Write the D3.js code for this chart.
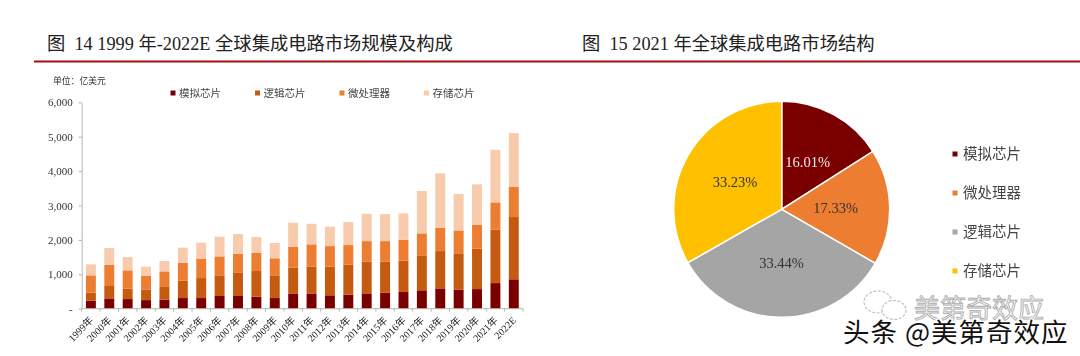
<!DOCTYPE html>
<html>
<head>
<meta charset="utf-8">
<script src="https://cdn.jsdelivr.net/npm/d3@7"></script>
<style>
  html, body { margin: 0; padding: 0; background: #fff; }
  text { font-family: "Liberation Serif", "Noto Sans CJK SC", serif; }
  .chart { filter: blur(0.45px); }
</style>
</head>
<body>
<div id="d3_viz"></div>
<script>
// values (hundred million USD)
const years = ['1999年','2000年','2001年','2002年','2003年','2004年','2005年','2006年','2007年','2008年','2009年','2010年','2011年','2012年','2013年','2014年','2015年','2016年','2017年','2018年','2019年','2020年','2021年','2022E'];
const analog = [230,300,280,250,260,310,310,370,370,350,310,430,430,390,410,445,465,485,535,590,550,570,745,855];
const logic = [235,360,300,310,370,505,580,600,670,745,660,760,790,830,870,920,900,910,1015,1085,1060,1175,1550,1810];
const micro = [505,610,535,400,455,515,555,550,560,535,495,605,650,600,570,600,600,605,640,670,665,695,795,880];
const memory = [320,495,385,260,300,445,475,575,570,455,445,705,600,565,670,795,785,770,1230,1590,1060,1175,1530,1560];

const barSeries = ['模拟芯片','逻辑芯片','微处理器','存储芯片'];
const barColors = ['#7a0000','#c55a11','#ed7d31','#f8cbad'];
const yTicks = [0,1000,2000,3000,4000,5000,6000];

const pieLabels = ['模拟芯片','微处理器','逻辑芯片','存储芯片'];
const pieValues = [16.01,17.33,33.44,33.23];
const pieColors = ['#7a0000','#ed7d31','#a5a5a5','#ffc000'];
const pieTextColors = ['#eeeeee','#333333','#333333','#333333'];

const svg = d3.select('#d3_viz')
	.append('svg')
		.attr('width', 1080)
		.attr('height', 356)
		.style('display', 'block');

// titles and red rule
svg.append('text')
	.attr('x', 47).attr('y', 50)
	.attr('font-size', 18.3).attr('fill', '#222')
	.attr('xml:space', 'preserve')
	.text('图  14 1999 年-2022E 全球集成电路市场规模及构成');

svg.append('text')
	.attr('x', 582).attr('y', 50)
	.attr('font-size', 18.3).attr('fill', '#222')
	.attr('xml:space', 'preserve')
	.text('图  15 2021 年全球集成电路市场结构');

svg.append('line')
	.attr('x1', 34).attr('x2', 1080)
	.attr('y1', 61.5).attr('y2', 61.5)
	.attr('stroke', '#a80c0c').attr('stroke-width', 2);

// stacked bars
const barG = svg.append('g').attr('class', 'chart');

let x = d3.scaleBand()
	.domain(years)
	.range([81.7, 523])
	.paddingInner(0.46)
	.paddingOuter(0.23);

let y = d3.scaleLinear()
	.domain([0, 6000])
	.range([308.7, 102.3]);

const rows = years.map((d, i) => ({year: d, a: analog[i], l: logic[i], m: micro[i], s: memory[i]}));
const stack = d3.stack().keys(['a','l','m','s'])(rows);

barG.selectAll('g.layer')
	.data(stack)
	.enter()
	.append('g')
		.attr('class', 'layer')
		.attr('fill', (d, i) => barColors[i])
	.selectAll('rect')
	.data(d => d)
	.enter()
	.append('rect')
		.attr('x', d => x(d.data.year))
		.attr('y', d => y(d[1]))
		.attr('width', x.bandwidth())
		.attr('height', d => y(d[0]) - y(d[1]));

// y axis
let yAxis = barG.append('g')
	.attr('transform', 'translate(81.7,0)')
	.call(d3.axisLeft(y)
		.tickValues(yTicks)
		.tickSize(3)
		.tickSizeOuter(0)
		.tickPadding(6)
		.tickFormat(d => d === 0 ? '-' : d3.format(',')(d)));
yAxis.select('.domain').attr('stroke', '#b5b5b5');
yAxis.selectAll('line').attr('stroke', '#b5b5b5');
yAxis.selectAll('text').attr('font-size', 11).attr('fill', '#333').style('font-family', '"Liberation Serif"');

// x axis, ticks sit between the categories
let step = x.step();
barG.append('line')
	.attr('x1', 81.7).attr('x2', 523)
	.attr('y1', y(0)).attr('y2', y(0))
	.attr('stroke', '#b5b5b5');
barG.selectAll('.xtick')
	.data(d3.range(years.length + 1))
	.enter()
	.append('line')
		.attr('class', 'xtick')
		.attr('x1', i => 81.7 + i * step)
		.attr('x2', i => 81.7 + i * step)
		.attr('y1', y(0)).attr('y2', y(0) + 3)
		.attr('stroke', '#b5b5b5');
barG.selectAll('.xlabel')
	.data(years)
	.enter()
	.append('text')
		.attr('class', 'xlabel')
		.attr('text-anchor', 'end')
		.attr('font-size', 10)
		.attr('fill', '#222')
		.attr('transform', d => 'translate(' + (x(d) + x.bandwidth() / 2 + 3) + ',321) rotate(-45)')
		.text(d => d);

// unit
barG.append('text')
	.attr('x', 53).attr('y', 84)
	.attr('font-size', 8.8).attr('fill', '#333')
	.text('单位：亿美元');

// bar legend
const legendX = [170.5, 255, 339.5, 424];
barG.selectAll('.legSquare')
	.data(barSeries)
	.enter()
	.append('rect')
		.attr('class', 'legSquare')
		.attr('x', (d, i) => legendX[i])
		.attr('y', 90.5)
		.attr('width', 5).attr('height', 5)
		.attr('fill', (d, i) => barColors[i]);
barG.selectAll('.legText')
	.data(barSeries)
	.enter()
	.append('text')
		.attr('class', 'legText')
		.attr('x', (d, i) => legendX[i] + 8.5)
		.attr('y', 97)
		.attr('font-size', 10.5)
		.attr('fill', '#444')
		.text(d => d);

// pie
const pieG = svg.append('g')
	.attr('class', 'chart')
	.attr('transform', 'translate(781.7,209.3)');

let pie = d3.pie().sort(null)(pieValues);
let arc = d3.arc().innerRadius(0).outerRadius(108);

pieG.selectAll('path')
	.data(pie)
	.enter()
	.append('path')
		.attr('d', arc)
		.attr('fill', (d, i) => pieColors[i])
		.attr('stroke', '#fff')
		.attr('stroke-width', 1.5);

pieG.selectAll('text')
	.data(pie)
	.enter()
	.append('text')
		.attr('transform', d => 'translate(' + arc.centroid(d) + ')')
		.attr('text-anchor', 'middle')
		.attr('dy', '0.35em')
		.attr('font-size', 14.5)
		.attr('fill', (d, i) => pieTextColors[i])
		.text(d => d.value.toFixed(2) + '%');

// pie legend
const pieLeg = svg.append('g').attr('class', 'chart');
pieLeg.selectAll('rect')
	.data(pieLabels)
	.enter()
	.append('rect')
		.attr('x', 952.5)
		.attr('y', (d, i) => 151.5 + i * 39)
		.attr('width', 5).attr('height', 5)
		.attr('fill', (d, i) => pieColors[i]);
pieLeg.selectAll('text')
	.data(pieLabels)
	.enter()
	.append('text')
		.attr('x', 963)
		.attr('y', (d, i) => 159 + i * 39)
		.attr('font-size', 14.5)
		.attr('fill', '#444')
		.text(d => d);

// watermark
const mark = svg.append('g');
mark.append('ellipse')
	.attr('cx', 878).attr('cy', 302).attr('rx', 14).attr('ry', 11)
	.attr('fill', 'none').attr('stroke', '#c0c0c0').attr('stroke-width', 1.2).attr('stroke-dasharray', '3 1.5');
mark.append('ellipse')
	.attr('cx', 894).attr('cy', 310).attr('rx', 12).attr('ry', 9.5)
	.attr('fill', '#fff').attr('stroke', '#c0c0c0').attr('stroke-width', 1.2).attr('stroke-dasharray', '3 1.5');
mark.append('text')
	.attr('x', 914).attr('y', 318)
	.attr('font-size', 26)
	.attr('fill', '#fff').attr('stroke', '#adadad').attr('stroke-width', 0.9)
	.style('font-family', '"Noto Sans CJK SC"')
	.text('美第奇效应');
mark.append('text')
	.attr('x', 843).attr('y', 342)
	.attr('font-size', 26.5)
	.attr('letter-spacing', 1)
	.attr('fill', '#111').attr('stroke', '#fff').attr('stroke-width', 2.5)
	.attr('paint-order', 'stroke')
	.style('font-family', '"Noto Sans CJK SC"')
	.text('头条 @美第奇效应');
</script>
</body>
</html>
